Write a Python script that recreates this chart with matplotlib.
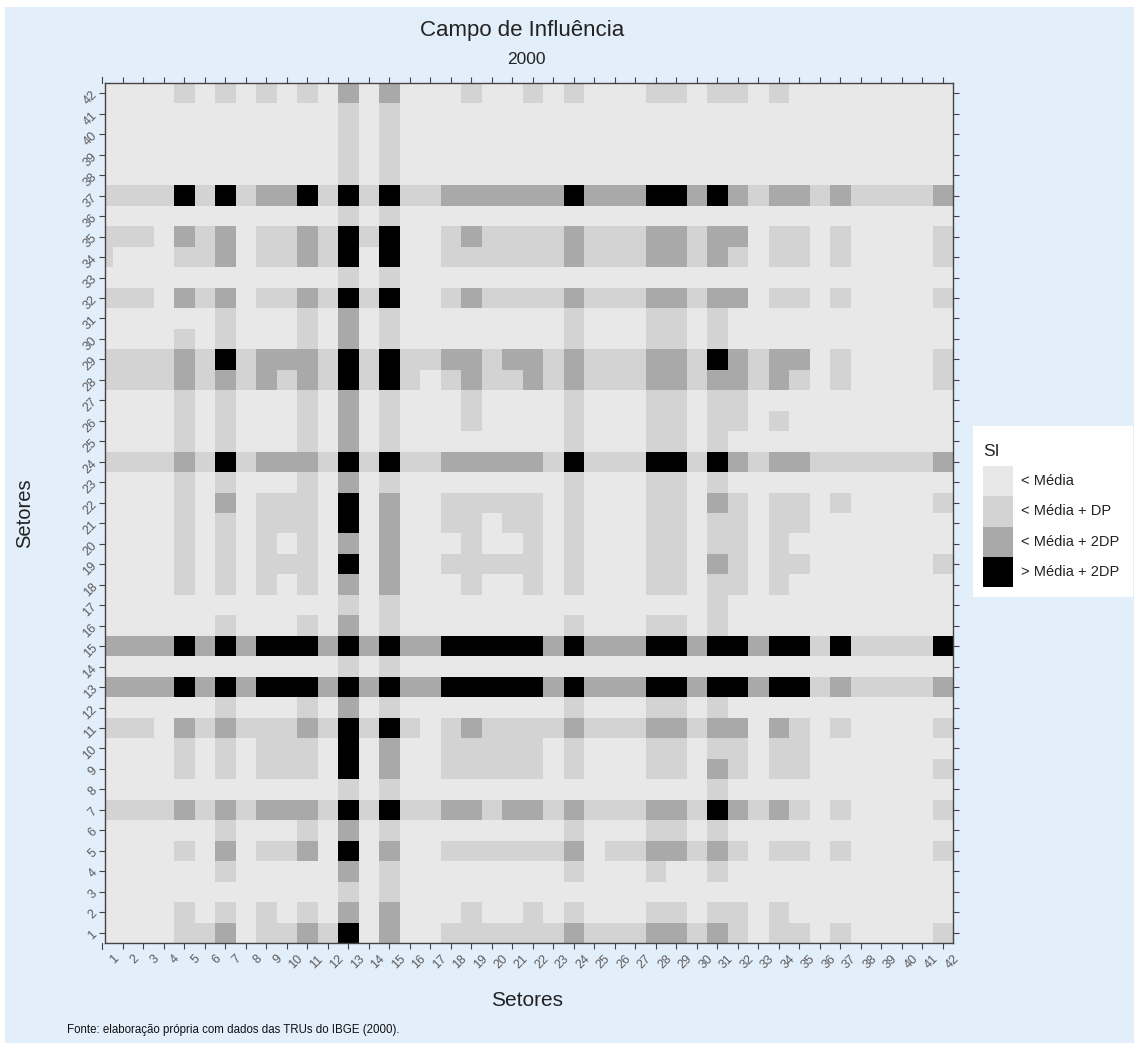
import matplotlib.pyplot as plt
import numpy as np
from matplotlib import font_manager
from matplotlib.colors import BoundaryNorm, ListedColormap
from matplotlib.patches import Rectangle
from matplotlib.transforms import ScaledTranslation

sectors = list(range(1, 43))
class_labels = ["< Média", "< Média + DP", "< Média + 2DP", "> Média + 2DP"]
class_colors = ["#e8e8e8", "#d3d3d3", "#a9a9a9", "#000000"]

# SI class of each cell (0..3), one string per row, sector 42 on top,
# columns 1..42 left to right (spaces only for reading)
si_rows = [
    "0 0001010101 0202000100 1010001101 1010000000 0",  # 42
    "0 0000000000 0101000000 0000000000 0000000000 0",  # 41
    "0 0000000000 0101000000 0000000000 0000000000 0",  # 40
    "0 0000000000 0101000000 0000000000 0000000000 0",  # 39
    "0 0000000000 0101000000 0000000000 0000000000 0",  # 38
    "1 1113131223 1313112222 2232223323 2122121111 2",  # 37
    "0 0000000000 0101000000 0000000000 0000000000 0",  # 36
    "1 1102120112 1313001211 1121112212 2011010000 1",  # 35
    "1 0001120112 1303001111 1121112212 1011010000 1",  # 34
    "0 0000000000 0101000000 0000000000 0000000000 0",  # 33
    "1 1102120112 1313001211 1121112212 2011010000 1",  # 32
    "0 0000010001 0201000000 0010001101 0000000000 0",  # 31
    "0 0001010001 0201000000 0010001101 0000000000 0",  # 30
    "1 1112131222 1313112212 2121112213 2122010000 1",  # 29
    "1 1112121212 1313101211 2121112212 2121010000 1",  # 28
    "0 0001010001 0201000100 0010001101 1000000000 0",  # 27
    "0 0001010001 0201000100 0010001101 1010000000 0",  # 26
    "0 0001010001 0201000000 0010001101 0000000000 0",  # 25
    "1 1112131222 1313112222 2131113313 2122111111 2",  # 24
    "0 0001010001 0201000000 0010001101 0000000000 0",  # 23
    "0 0001020111 0302001111 1010001102 1011010000 1",  # 22
    "0 0001010111 0302001101 1010001101 1011000000 0",  # 21
    "0 0001010101 0202000100 1010001101 1010000000 0",  # 20
    "0 0001010111 0302001111 1010001102 1011000000 1",  # 19
    "0 0001010101 0202000100 1010001101 1010000000 0",  # 18
    "0 0000000000 0101000000 0000000001 0000000000 0",  # 17
    "0 0000010001 0201000000 0010001101 0000000000 0",  # 16
    "2 2223232333 2323223333 3232223323 3233131111 3",  # 15
    "0 0000000000 0101000000 0000000000 0000000000 0",  # 14
    "2 2223232333 2323223333 3232223323 3233121111 2",  # 13
    "0 0000010001 0201000000 0010001101 0000000000 0",  # 12
    "1 1102121112 1313101211 1121112212 2021010000 1",  # 11
    "0 0001010111 0302001111 1010001101 1011000000 0",  # 10
    "0 0001010111 0302001111 1010001102 1011000000 1",  # 9
    "0 0000000000 0101000000 0000000001 0000000000 0",  # 8
    "1 1112121222 1313112212 2121112213 2121010000 1",  # 7
    "0 0000010001 0201000000 0010001101 0000000000 0",  # 6
    "0 0001020112 0302001111 1120112212 1011010000 1",  # 5
    "0 0000010000 0201000000 0010001001 0000000000 0",  # 4
    "0 0000000000 0101000000 0000000000 0000000000 0",  # 3
    "0 0001010101 0202000100 1010001101 1010000000 0",  # 2
    "0 0001120112 1302001111 1121112212 1011010000 1",  # 1
]

grid = np.array([[int(ch) for ch in row.replace(" ", "")] for row in si_rows])[::-1]

installed = {f.name for f in font_manager.fontManager.ttflist}
has_narrow = "Liberation Sans Narrow" in installed

plt.rcParams["font.family"] = ["Liberation Sans", "DejaVu Sans"]

W, H = 1134, 1043
fig = plt.figure(figsize=(W / 100, H / 100), dpi=100)
fig.patch.set_facecolor("white")
# light blue panel, leaving the thin white margin at top and left
fig.add_artist(Rectangle((5 / W, 0), 1, 1 - 7 / H, transform=fig.transFigure,
                         facecolor="#e3eefb", edgecolor="none", zorder=-5))

ax = fig.add_axes([105 / W, 1 - 943 / H, 848 / W, 860 / H])
cmap = ListedColormap(class_colors)
norm = BoundaryNorm(np.arange(-0.5, 4.5, 1), cmap.N)
edges = np.arange(0.5, 43.5, 1)
ax.pcolormesh(edges, edges, grid, cmap=cmap, norm=norm)
# the first column is mostly cut off by the frame, as in the original
ax.set_xlim(1.134, 42.5)
ax.set_ylim(0.5, 42.5)

tick_col = "#444444"
lab_col = "#5a5a5a"
ax.set_xticks(sectors[1:])
ax.set_xticklabels([])
ax.set_yticks(sectors)
ax.set_yticklabels(sectors, rotation=45, ha="right", va="center",
                   rotation_mode="anchor", fontsize=9, color=lab_col)
ax.tick_params(axis="both", which="both", direction="out", length=4,
               width=0.8, color=tick_col, top=True, right=True, pad=3)
for side in ("left", "right", "top", "bottom"):
    ax.spines[side].set_color(tick_col)
    ax.spines[side].set_linewidth(1.0)

# x labels drawn by hand so that sector 1 (left of the frame) shows too
xtrans = ax.get_xaxis_transform()
shift = ScaledTranslation(0.10, -0.10, fig.dpi_scale_trans)
for s in sectors:
    ax.text(s, 0, str(s), transform=xtrans + shift, rotation=45,
            ha="right", va="top", rotation_mode="anchor", fontsize=9,
            color=lab_col, clip_on=False)
for y0, y1 in ((0, -0.0065), (1, 1.0065)):
    ax.plot([1, 1], [y0, y1], transform=xtrans, color=tick_col, lw=0.8,
            clip_on=False)

if has_narrow:
    title_font = dict(family=["Liberation Sans Narrow", "DejaVu Sans"])
    fig.text(0.4605, 0.971, "Campo de Influência", ha="center", va="center",
             fontsize=19, color="#222222", **title_font)
    fig.text(0.4645, 0.9425, "2000", ha="center", va="center",
             fontsize=14, color="#222222", **title_font)
else:
    fig.text(0.4605, 0.971, "Campo de Influência", ha="center", va="center",
             fontsize=16, color="#222222")
    fig.text(0.4645, 0.9425, "2000", ha="center", va="center",
             fontsize=12.5, color="#222222")

fig.text(0.4645, 1 - 1000 / H, "Setores", ha="center", va="center",
         fontsize=15, color="#222222")
fig.text(25 / W, 0.508, "Setores", ha="center", va="center", rotation=90,
         fontsize=14.5, color="#222222")
fig.text(67 / W, 1 - 1030 / H,
         "Fonte: elaboração própria com dados das TRUs do IBGE (2000).",
         ha="left", va="center", fontsize=8.3, color="#111111")

# legend box on the right
lax = fig.add_axes([973 / W, 1 - 597 / H, 160 / W, 171 / H])
lax.set_xlim(0, 160)
lax.set_ylim(171, 0)
lax.set_facecolor("white")
lax.set_xticks([])
lax.set_yticks([])
for sp in lax.spines.values():
    sp.set_visible(False)
lax.text(10, 25, "SI", fontsize=12.5, va="center", ha="left", color="#222222")
for i, (lab, col) in enumerate(zip(class_labels, class_colors)):
    lax.add_patch(Rectangle((10, 40 + 30.25 * i), 30, 30.25,
                            facecolor=col, edgecolor="none"))
    lax.text(48, 55 + 30.25 * i, lab, fontsize=10.5, va="center", ha="left",
             color="#222222")

fig.savefig("out.png", dpi=100, facecolor=fig.get_facecolor())
